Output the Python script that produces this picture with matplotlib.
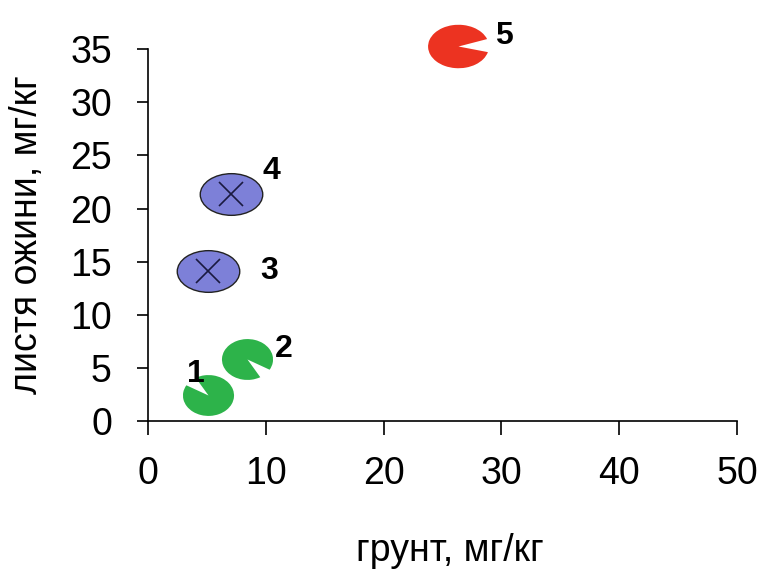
import numpy as np
import matplotlib
matplotlib.use('Agg')
import matplotlib.pyplot as plt
from matplotlib.path import Path
from matplotlib.transforms import Affine2D

# data
soil = [5.1, 8.4, 5.1, 7.05, 26.3]          # грунт, мг/кг
leaves = [2.4, 5.8, 14.1, 21.4, 35.3]       # листя ожини, мг/кг
labels = ['1', '2', '3', '4', '5']
groups = ['green', 'green', 'blue', 'blue', 'red']
label_dx = [-1.0, 3.1, 5.2, 3.4, 3.9]
label_dy = [2.0, 1.0, 0.0, 2.1, 0.9]

x_ticks = [0, 10, 20, 30, 40, 50]
y_ticks = [0, 5, 10, 15, 20, 25, 30, 35]

plt.rcParams['font.family'] = ['Liberation Sans', 'DejaVu Sans']

# marker shapes
ellipse = Path.unit_circle().transformed(Affine2D().scale(1.5, 1.0))
pac_green1 = Path.wedge(150, 480).transformed(Affine2D().scale(1.25, 1.0))
pac_green2 = Path.wedge(-30, 300).transformed(Affine2D().scale(1.25, 1.0))
pac_red = Path.wedge(20, 345).transformed(Affine2D().scale(1.4, 1.0))

styles = {
    0: dict(marker=pac_green1, color='#2db34a', edge='none', size=37),
    1: dict(marker=pac_green2, color='#2db34a', edge='none', size=37),
    2: dict(marker=ellipse, color='#7d80d8', edge='#222222', size=45),
    3: dict(marker=ellipse, color='#7d80d8', edge='#222222', size=45),
    4: dict(marker=pac_red, color='#ec3321', edge='none', size=44),
}

fig = plt.figure(figsize=(7.57, 5.72), dpi=100)
ax = fig.add_axes([0.1955, 0.264, 0.778, 0.650])

for i in range(len(soil)):
    st = styles[i]
    ax.plot(soil[i], leaves[i], linestyle='none', marker=st['marker'],
            markersize=st['size'], markerfacecolor=st['color'],
            markeredgecolor=st['edge'], markeredgewidth=1.0, clip_on=False)
    if groups[i] == 'blue':
        ax.plot(soil[i], leaves[i], linestyle='none', marker='x',
                markersize=17, markeredgecolor='#1a1a40', markeredgewidth=1.2)
    ax.text(soil[i] + label_dx[i], leaves[i] + label_dy[i], labels[i],
            fontsize=23, fontweight='bold', ha='center', va='center')

ax.set_xlim(0, 50)
ax.set_ylim(0, 35)
ax.set_xticks(x_ticks)
ax.set_yticks(y_ticks)
ax.tick_params(axis='both', labelsize=27, direction='out', width=1.2)
ax.tick_params(axis='x', length=10, pad=15)
ax.tick_params(axis='y', length=8, pad=18)
ax.spines['top'].set_visible(False)
ax.spines['right'].set_visible(False)
ax.spines['left'].set_linewidth(1.2)
ax.spines['bottom'].set_linewidth(1.2)

ax.set_xlabel('грунт, мг/кг', fontsize=27)
ax.set_ylabel('листя ожини, мг/кг', fontsize=27)
ax.xaxis.set_label_coords(0.513, -0.30)
ax.yaxis.set_label_coords(-0.175, 0.5)

fig.savefig('out.png', dpi=100, facecolor='white')
